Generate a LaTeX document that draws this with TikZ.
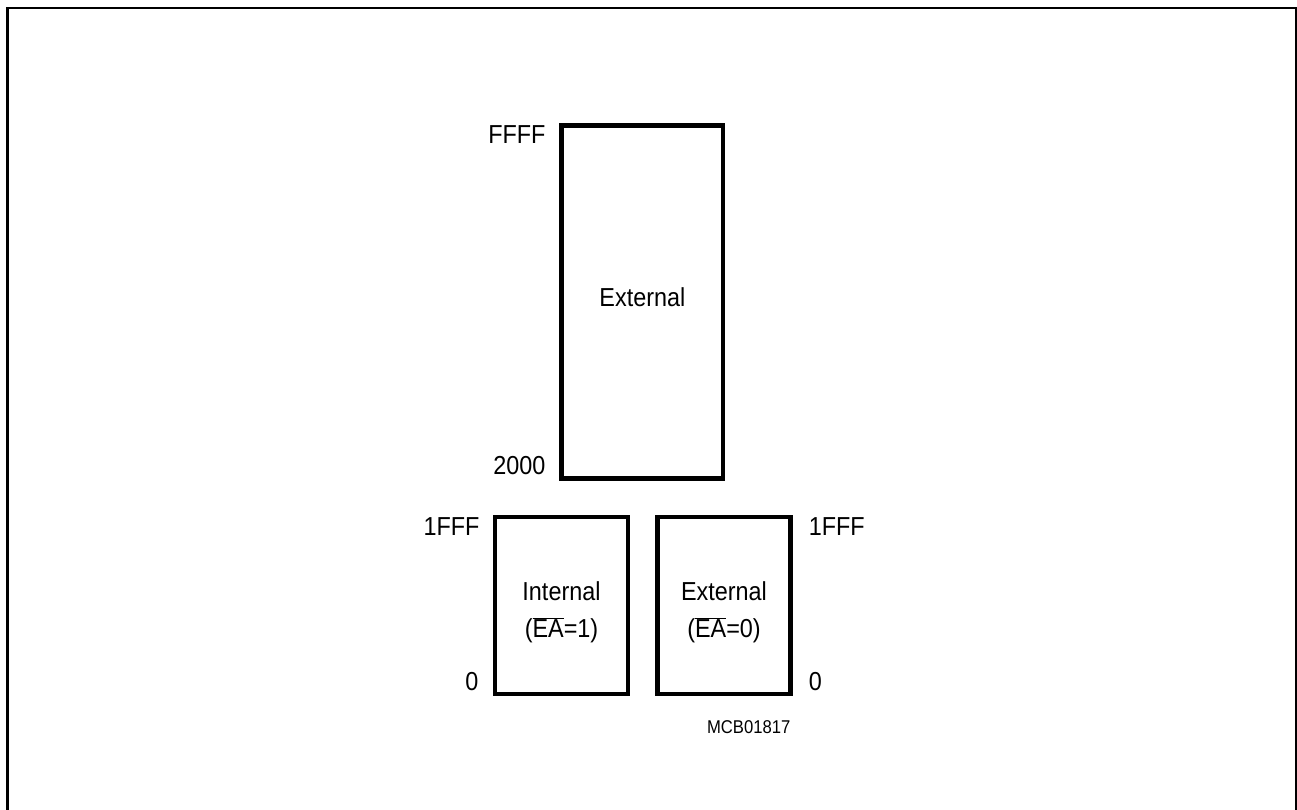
\documentclass[tikz,border=0pt]{standalone}
\usepackage{fontspec}
\setmainfont{Liberation Sans}[FakeStretch=0.9]
\begin{document}
\begin{tikzpicture}[x=1pt,y=-1pt,line join=miter,inner sep=0pt,
		font=\fontsize{26}{37}\selectfont,
		membox/.style={draw,line width=4.8pt,rectangle},
		addr/.style={inner sep=0pt}]
	\useasboundingbox (0,0) rectangle (1297,809);
	\draw[line width=2.6pt] (7.3,830)--(7.3,8)--(1296.3,8)--(1296.3,830); % khung
	% cac khoi nho
	\node[membox,minimum width=161.3pt,minimum height=353.4pt] (big) at (642.4,302) {};
	\node[membox,minimum width=133pt,minimum height=177pt] (lb) at (561.5,605.5) {};
	\node[membox,minimum width=132.5pt,minimum height=177pt] (rb) at (724,605.5) {};
	% noi dung
	\node at ([yshift=5pt]big.center) {External};
	\node[align=center] at ([yshift=-6.5pt]lb.center) {Internal\\($\overline{\mbox{EA}}$=1)};
	\node[align=center] at ([yshift=-6.5pt]rb.center) {External\\($\overline{\mbox{EA}}$=0)};
	% dia chi
	\foreach \p/\dx/\dy/\t in {big.north west/-13.7/-11.7/FFFF,big.south west/-13.7/15.7/2000,
		lb.north west/-13/-12/1FFF,lb.south west/-14/15/0}
	{\node[addr,anchor=east] at ([xshift=\dx pt,yshift=\dy pt]\p) {\t};}
	\foreach \p/\dx/\dy/\t in {rb.north east/16/-12/1FFF,rb.south east/16/15/0}
	{\node[addr,anchor=west] at ([xshift=\dx pt,yshift=\dy pt]\p) {\t};}
	\node[font=\fontsize{18.5}{20}\selectfont] (code) at ([xshift=-44pt,yshift=-31pt]rb.south east) {MCB01817};
\end{tikzpicture}
\end{document}
